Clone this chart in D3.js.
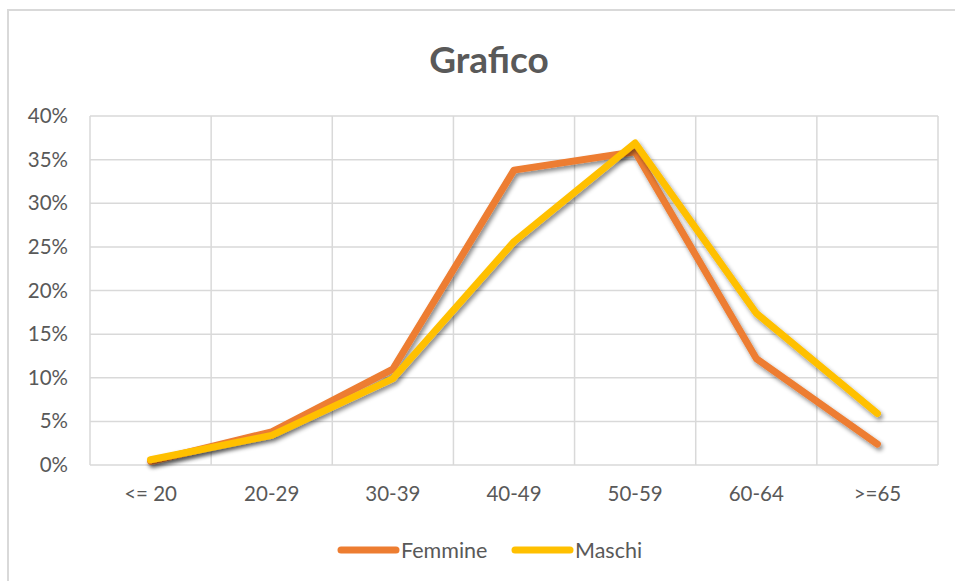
<!DOCTYPE html>
<html>
<head>
<meta charset="utf-8">
<script src="https://cdn.jsdelivr.net/npm/d3@7"></script>
<style>
  body { margin: 0; background: #fff; }
  text { font-family: Lato, "Open Sans", sans-serif; fill: #595959; }
</style>
</head>
<body>
<svg id="chart" width="955" height="581"></svg>
<script>
// data
var categories = ["<= 20", "20-29", "30-39", "40-49", "50-59", "60-64", ">=65"];
var femmine = [0.4, 3.8, 11.0, 33.8, 35.9, 12.2, 2.4];
var maschi  = [0.6, 3.4, 9.9, 25.6, 36.9, 17.4, 5.9];
var yTicks = [0, 5, 10, 15, 20, 25, 30, 35, 40];
var seriesNames = ["Femmine", "Maschi"];
var colors = ["#ED7D31", "#FFC000"];

var margin = {top: 116, right: 17, bottom: 116, left: 90},
    width = 938 - margin.left,
    height = 465 - margin.top;

var svg = d3.select("#chart");

// chart frame
svg.append("rect")
  .attr("x", 8).attr("y", 10)
  .attr("width", 960).attr("height", 590)
  .attr("fill", "#fff")
  .attr("stroke", "#d9d9d9")
  .attr("stroke-width", 2);

var defs = svg.append("defs");
var f = defs.append("filter").attr("id", "shadow")
  .attr("x", "-10%").attr("y", "-10%").attr("width", "130%").attr("height", "130%");
f.append("feDropShadow")
  .attr("dx", 2).attr("dy", 3).attr("stdDeviation", 2)
  .attr("flood-color", "#000").attr("flood-opacity", 0.45);

svg.append("text")
  .attr("x", 489).attr("y", 73)
  .attr("text-anchor", "middle")
  .style("font-size", "37px")
  .style("font-weight", "bold")
  .text("Grafico");

var g = svg.append("g").attr("transform", "translate(" + margin.left + "," + margin.top + ")");

var x = d3.scaleBand().domain(categories).range([0, width]);
var y = d3.scaleLinear().domain([0, 40]).range([height, 0]);

// horizontal grid
g.append("g").selectAll("line").data(yTicks).enter().append("line")
  .attr("x1", 0).attr("x2", width)
  .attr("y1", function(d) { return y(d); })
  .attr("y2", function(d) { return y(d); })
  .attr("stroke", "#d9d9d9").attr("stroke-width", 1.5);

// vertical grid at band edges
var edges = categories.map(function(c) { return x(c); }).concat([width]);
g.append("g").selectAll("line").data(edges).enter().append("line")
  .attr("x1", function(d) { return d; }).attr("x2", function(d) { return d; })
  .attr("y1", 0).attr("y2", height)
  .attr("stroke", "#d9d9d9").attr("stroke-width", 1.5);

// y axis labels
var yAxis = g.append("g")
  .call(d3.axisLeft(y).tickValues(yTicks).tickSize(0).tickPadding(22)
    .tickFormat(function(d) { return d + "%"; }));
yAxis.select(".domain").remove();
yAxis.selectAll("text").style("font-size", "20.5px").attr("fill", "#595959")
  .style("font-family", "Lato, 'Open Sans', sans-serif");

// x axis labels
var xAxis = g.append("g").attr("transform", "translate(0," + height + ")")
  .call(d3.axisBottom(x).tickSize(0).tickPadding(21));
xAxis.select(".domain").remove();
xAxis.selectAll("text").style("font-size", "20.5px").attr("fill", "#595959")
  .style("font-family", "Lato, 'Open Sans', sans-serif");

var line = d3.line()
  .x(function(d, i) { return x(categories[i]) + x.bandwidth() / 2; })
  .y(function(d) { return y(d); });

[femmine, maschi].forEach(function(s, i) {
  g.append("path")
    .datum(s)
    .attr("d", line)
    .attr("fill", "none")
    .attr("stroke", colors[i])
    .attr("stroke-width", 7)
    .attr("stroke-linecap", "round")
    .attr("stroke-linejoin", "round")
    .attr("filter", "url(#shadow)");
});

// legend
var legend = svg.append("g").attr("transform", "translate(341,550)");
var legX = [0, 174];
seriesNames.forEach(function(name, i) {
  var lg = legend.append("g").attr("transform", "translate(" + legX[i] + ",0)");
  lg.append("line").attr("x1", 0).attr("x2", 55).attr("y1", 0).attr("y2", 0)
    .attr("stroke", colors[i]).attr("stroke-width", 7).attr("stroke-linecap", "round");
  lg.append("text").attr("x", 60).attr("y", 7.5)
    .style("font-size", "21.5px").text(name);
});
</script>
</body>
</html>
